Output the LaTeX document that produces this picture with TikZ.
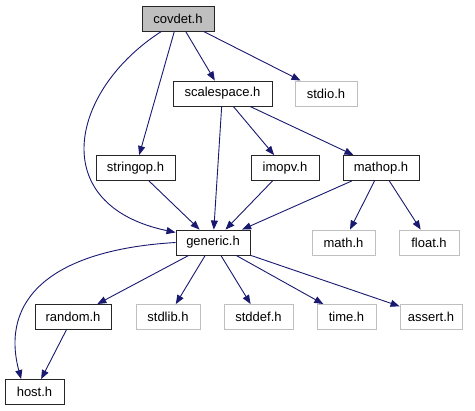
\documentclass[tikz,border=0pt]{standalone}
\usepackage{fontspec}
\setmainfont{Liberation Sans}
\usepackage{xcolor}
\usepackage{tikz}
\usetikzlibrary{arrows.meta}

\definecolor{edgeblue}{RGB}{25,25,112}
\definecolor{lightgrey}{RGB}{191,191,191}

\begin{document}
\begin{tikzpicture}[
  x=1pt, y=-1pt,
  font=\fontsize{13}{15}\selectfont,
  hdr/.style={draw=black!85, line width=0.9pt, minimum height=25pt,
              inner sep=2pt, fill=white},
  sys/.style={hdr, draw=lightgrey},
  edge/.style={-{Triangle[length=9pt, width=7pt]}, edgeblue, line width=0.9pt}
]
\useasboundingbox (0,0) rectangle (475,411);

% Top
\node[hdr, fill=lightgrey, minimum width=72pt] (covdet) at (178,18.5) {covdet.h};
\node[hdr, minimum width=99pt] (scalespace) at (222.5,93.5) {scalespace.h};
\node[sys, minimum width=62pt] (stdio) at (326,93.5) {stdio.h};

% Middle row
\node[hdr, minimum width=79pt] (stringop) at (135.5,168) {stringop.h};
\node[hdr, minimum width=68pt] (imopv) at (285,168) {imopv.h};
\node[hdr, minimum width=76pt] (mathop) at (381,168) {mathop.h};

\node[hdr, minimum width=74pt] (generic) at (213,242.5) {generic.h};
\node[sys, minimum width=63pt] (math) at (343.5,242.5) {math.h};
\node[sys, minimum width=60pt] (float) at (429,242.5) {float.h};

% Bottom
\node[hdr, minimum width=76pt] (random) at (73,317) {random.h};
\node[sys, minimum width=64pt] (stdlib) at (168,317) {stdlib.h};
\node[sys, minimum width=69pt] (stddef) at (258.5,317) {stddef.h};
\node[sys, minimum width=59pt] (time) at (346.5,317) {time.h};
\node[sys, minimum width=62pt] (assert) at (431,317) {assert.h};
\node[hdr, minimum width=59pt] (host) at (34.5,392) {host.h};

% covdet.h includes
\draw[edge] (covdet) -- (scalespace);
\draw[edge] (covdet) -- (stdio);
\draw[edge] (covdet) -- (stringop);
\draw[edge] (covdet.218) .. controls (70,90) and (45,205) .. (generic.165);

% scalespace.h includes
\draw[edge] (scalespace) -- (generic);
\draw[edge] (scalespace) -- (imopv);
\draw[edge] (scalespace) -- (mathop);

\draw[edge] (stringop) -- (generic);
\draw[edge] (imopv) -- (generic);
\draw[edge] (mathop) -- (generic);
\draw[edge] (mathop) -- (math);
\draw[edge] (mathop) -- (float);

% generic.h includes
\draw[edge] (generic.west) .. controls (50,250) and (0,300) .. (host.136);
\draw[edge] (generic) -- (random);
\draw[edge] (generic) -- (stdlib);
\draw[edge] (generic) -- (stddef);
\draw[edge] (generic) -- (time);
\draw[edge] (generic) -- (assert);

\draw[edge] (random) -- (host);
\end{tikzpicture}
\end{document}
